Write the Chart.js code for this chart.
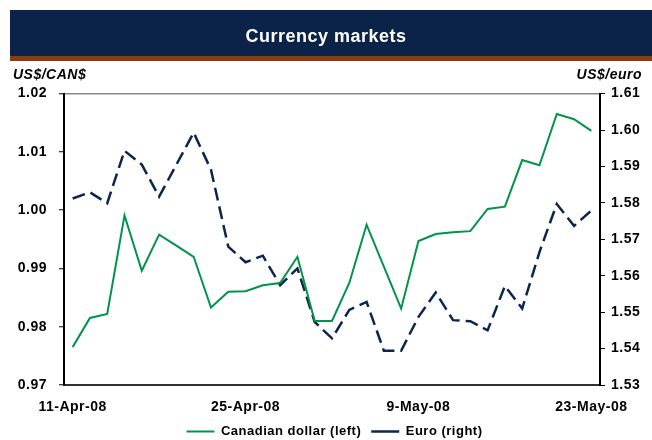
<!DOCTYPE html>
<html>
<head>
<meta charset="utf-8">
<script src="https://cdn.jsdelivr.net/npm/chart.js@4.4.1/dist/chart.umd.min.js"></script>
<style>
html,body{margin:0;padding:0;background:#fff;}
#wrap{position:relative;width:652px;height:440px;}
</style>
</head>
<body>
<div id="wrap"><canvas id="c" width="652" height="440"></canvas></div>
<script>
// ---- data ----
const dates = ['11-Apr-08','14-Apr-08','15-Apr-08','16-Apr-08','17-Apr-08','18-Apr-08',
  '21-Apr-08','22-Apr-08','23-Apr-08','24-Apr-08','25-Apr-08',
  '28-Apr-08','29-Apr-08','30-Apr-08','1-May-08','2-May-08',
  '5-May-08','6-May-08','7-May-08','8-May-08','9-May-08',
  '12-May-08','13-May-08','14-May-08','15-May-08','16-May-08',
  '19-May-08','20-May-08','21-May-08','22-May-08','23-May-08'];
const cadValues = [0.9765,0.9815,0.9822,0.9991,0.9896,0.9958,0.9939,0.9920,0.9833,0.9860,
  0.9861,0.9871,0.9875,0.9920,0.9810,0.9810,0.9875,0.9975,0.9903,0.9831,
  0.9947,0.9959,0.9962,0.9964,1.0002,1.0006,1.0086,1.0077,1.0165,1.0156,1.0136];
const euroValues = [1.5812,1.5829,1.5799,1.5943,1.5905,1.5817,1.5905,1.5993,1.5891,1.5680,
  1.5637,1.5655,1.5574,1.5620,1.5473,1.5428,1.5506,1.5528,1.5394,1.5394,
  1.5487,1.5554,1.5478,1.5475,1.5450,1.5572,1.5510,1.5665,1.5797,1.5737,1.5779];
const xTickLabels = ['11-Apr-08','25-Apr-08','9-May-08','23-May-08'];
const seriesNames = ['Canadian dollar (left)','Euro (right)'];
const chartTitle = 'Currency markets';
const leftUnit = 'US$/CAN$';
const rightUnit = 'US$/euro';
const leftRange = [0.97, 1.02];
const rightRange = [1.53, 1.61];

// ---- styling ----
const FONT = '"Liberation Sans", Arial, Helvetica, sans-serif';
Chart.defaults.font.family = FONT;
Chart.defaults.color = '#000';

const GREEN = '#009448';
const NAVY = '#0b2550';

const headerPlugin = {
  id: 'header',
  beforeDraw(chart) {
    const ctx = chart.ctx;
    ctx.letterSpacing = '0.5px';
    ctx.save();
    ctx.fillStyle = '#0b2349';
    ctx.fillRect(10, 10, 642, 46);
    ctx.fillStyle = '#8a3c0e';
    ctx.fillRect(10, 56, 642, 5);
    ctx.restore();
  },
  afterDraw(chart) {
    const ctx = chart.ctx;
    ctx.save();
    ctx.font = 'italic bold 14px ' + FONT;
    ctx.fillStyle = '#000';
    ctx.textBaseline = 'middle';
    ctx.textAlign = 'left';
    ctx.fillText(leftUnit, 13, 75);
    ctx.textAlign = 'right';
    ctx.fillText(rightUnit, 642, 75);
    ctx.restore();
  }
};

new Chart(document.getElementById('c'), {
  type: 'line',
  data: {
    labels: dates,
    datasets: [
      { label: seriesNames[0], data: cadValues, yAxisID: 'yL', borderColor: GREEN, backgroundColor: GREEN,
        borderWidth: 2, pointRadius: 0, pointStyle: 'line', tension: 0, fill: false },
      { label: seriesNames[1], data: euroValues, yAxisID: 'yR', borderColor: NAVY, backgroundColor: NAVY,
        borderWidth: 2.5, borderDash: [13, 6], pointRadius: 0, pointStyle: 'line', tension: 0, fill: false }
    ]
  },
  options: {
    responsive: false,
    devicePixelRatio: 1,
    animation: false,
    layout: { padding: { left: 0, right: 0, top: 0, bottom: 0 } },
    plugins: {
      title: {
        display: true, text: chartTitle, color: '#fff',
        font: { size: 18, weight: 'bold', family: FONT },
        padding: { top: 26, bottom: 46 }
      },
      legend: {
        position: 'bottom',
        maxHeight: 25,
        labels: {
          usePointStyle: true, pointStyleWidth: 28,
          padding: 10,
          font: { size: 13, weight: 'bold', family: FONT },
          color: '#000'
        }
      },
      tooltip: { enabled: false }
    },
    scales: {
      x: {
        type: 'category',
        offset: true,
        grid: { display: true, drawOnChartArea: false, drawTicks: false, color: 'rgba(0,0,0,0)' },
        border: { display: true, color: '#333', width: 2 },
        ticks: {
          autoSkip: false, maxRotation: 0, minRotation: 0, padding: 14,
          font: { size: 14, weight: 'bold', family: FONT },
          color: '#000',
          callback: function(val, idx) {
            const lab = this.getLabelForValue(val);
            return xTickLabels.includes(lab) ? lab : '';
          }
        },
        afterFit(scale) { scale.height = 30; }
      },
      yL: {
        position: 'left',
        min: leftRange[0], max: leftRange[1],
        grid: {
          drawOnChartArea: true, drawTicks: true, tickLength: 5, tickColor: '#000', tickWidth: 1,
          color: (c) => (c.index === 5 ? '#8a8a8a' : 'rgba(0,0,0,0)'), lineWidth: 1.5
        },
        border: { display: true, color: '#000', width: 2 },
        ticks: {
          stepSize: 0.01, padding: 12,
          font: { size: 14, weight: 'bold', family: FONT }, color: '#000',
          callback: (v) => Number(v).toFixed(2)
        },
        afterFit(scale) { scale.width = 64; }
      },
      yR: {
        position: 'right',
        min: rightRange[0], max: rightRange[1],
        grid: { drawOnChartArea: false, drawTicks: true, tickLength: 5, tickColor: '#000', color: 'rgba(0,0,0,0)' },
        border: { display: true, color: '#000', width: 2 },
        ticks: {
          stepSize: 0.01, padding: 6,
          font: { size: 14, weight: 'bold', family: FONT }, color: '#000',
          callback: (v) => Number(v).toFixed(2)
        },
        afterFit(scale) { scale.width = 52; }
      }
    }
  },
  plugins: [headerPlugin]
});
</script>
</body>
</html>
